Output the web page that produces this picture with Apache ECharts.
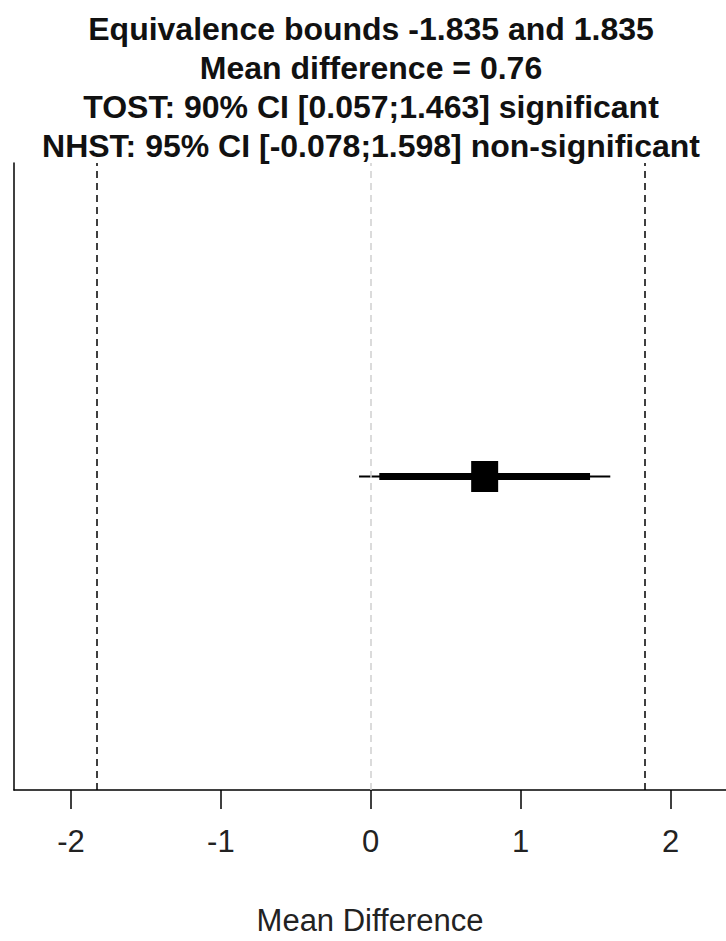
<!DOCTYPE html>
<html>
<head>
<meta charset="utf-8">
<script src="https://cdn.jsdelivr.net/npm/echarts@6/dist/echarts.min.js"></script>
<style>
html,body{margin:0;padding:0;background:#fff;}
#chart{width:726px;height:941px;}
</style>
</head>
<body>
<div id="chart"></div>
<script>
// ---- data ----
const titleLines = [
  "Equivalence bounds -1.835 and 1.835",
  "Mean difference = 0.76",
  "TOST: 90% CI [0.057;1.463] significant",
  "NHST: 95% CI [-0.078;1.598] non-significant"
];
const equivBounds = [-1.835, 1.835];
const zeroLine = [0];
const meanDiff = [0.76];
const ci90 = [0.057, 1.463];
const ci95 = [-0.078, 1.598];
const xTicks = [-2, -1, 0, 1, 2];
const xAxisName = "Mean Difference";
const rowY = 1;

const font = "'Liberation Sans', Arial, sans-serif";

const chart = echarts.init(document.getElementById('chart'), null, {renderer: 'svg'});
chart.setOption({
  animation: false,
  backgroundColor: '#fff',
  title: {
    text: titleLines.join('\n'),
    left: 371,
    top: 9,
    textAlign: 'center',
    padding: 0,
    textStyle: {fontSize: 32, fontWeight: 'bold', lineHeight: 39, color: '#111', fontFamily: font}
  },
  grid: {left: 14, right: 0, top: 163, bottom: 148, containLabel: false},
  xAxis: {
    type: 'value',
    min: -2.38,
    max: 2.37,
    name: xAxisName,
    nameLocation: 'middle',
    nameGap: 115,
    nameTextStyle: {fontSize: 31, color: '#222', fontFamily: font},
    splitLine: {show: false},
    axisLine: {show: true, onZero: false, lineStyle: {color: '#000', width: 1.5}},
    axisTick: {show: true, customValues: xTicks, length: 19, lineStyle: {color: '#000', width: 1.5}},
    axisLabel: {show: true, customValues: xTicks, fontSize: 31, color: '#222', margin: 36, fontFamily: font}
  },
  yAxis: {
    type: 'value',
    min: 0,
    max: 2,
    splitLine: {show: false},
    axisLine: {show: true, onZero: false, lineStyle: {color: '#000', width: 1.5}},
    axisTick: {show: false},
    axisLabel: {show: false}
  },
  series: [
    {
      type: 'line',
      z: 1,
      data: [],
      markLine: {
        silent: true,
        symbol: 'none',
        label: {show: false},
        data: [
          {xAxis: zeroLine[0], lineStyle: {color: '#cfcfcf', type: [7, 5], width: 1.5}},
          {xAxis: equivBounds[0], lineStyle: {color: '#000', type: [7, 5], width: 1.5}},
          {xAxis: equivBounds[1], lineStyle: {color: '#000', type: [7, 5], width: 1.5}}
        ]
      }
    },
    {
      type: 'line',
      z: 3,
      symbol: 'none',
      data: [[ci95[0], rowY], [ci95[1], rowY]],
      lineStyle: {color: '#000', width: 2}
    },
    {
      type: 'line',
      z: 4,
      symbol: 'none',
      data: [[ci90[0], rowY], [ci90[1], rowY]],
      lineStyle: {color: '#000', width: 7}
    },
    {
      type: 'scatter',
      z: 5,
      symbol: 'rect',
      symbolSize: [27, 31],
      itemStyle: {color: '#000', opacity: 1},
      data: [[meanDiff[0], rowY]]
    }
  ]
});
</script>
</body>
</html>
